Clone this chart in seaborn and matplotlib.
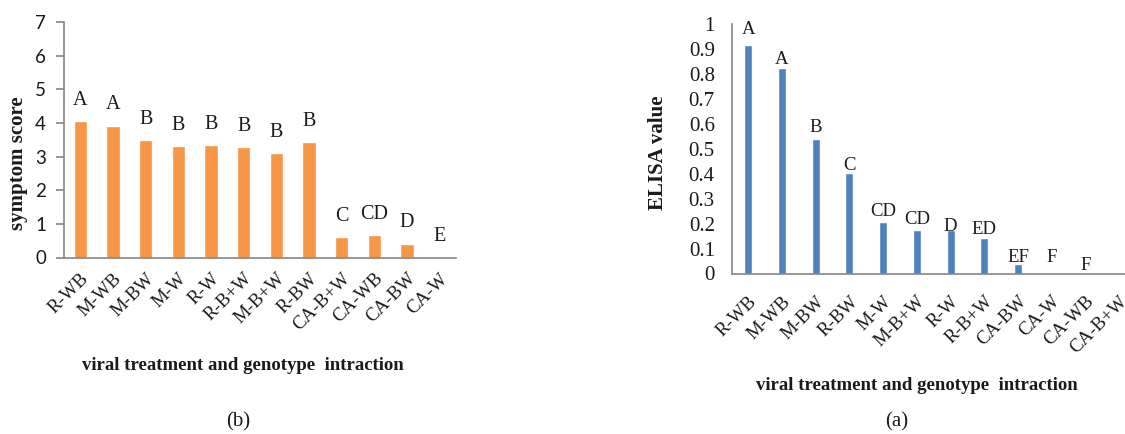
import matplotlib
matplotlib.use("Agg")
import matplotlib.pyplot as plt
import seaborn as sns
import pandas as pd
from matplotlib.ticker import FuncFormatter

# ---------------- data ----------------
symptom_cats = ["R-WB", "M-WB", "M-BW", "M-W", "R-W", "R-B+W", "M-B+W", "R-BW",
                "CA-B+W", "CA-WB", "CA-BW", "CA-W"]
symptom_vals = [4.06, 3.92, 3.49, 3.31, 3.34, 3.27, 3.11, 3.42, 0.60, 0.67, 0.41, 0.0]
symptom_letters = ["A", "A", "B", "B", "B", "B", "B", "B", "C", "CD", "D", "E"]

elisa_cats = ["R-WB", "M-WB", "M-BW", "R-BW", "M-W", "M-B+W", "R-W", "R-B+W",
              "CA-BW", "CA-W", "CA-WB", "CA-B+W"]
elisa_vals = [0.916, 0.823, 0.541, 0.403, 0.208, 0.176, 0.175, 0.141, 0.039, 0.0, 0.0, -0.008]
elisa_letters = ["A", "A", "B", "C", "CD", "CD", "D", "ED", "EF", "F", "F", ""]

x_title = "viral treatment and genotype  intraction"

# ---------------- style ----------------
sns.set_theme(style="white")
plt.rcParams["font.family"] = ["Liberation Serif", "DejaVu Serif"]

ORANGE = "#F79646"
BLUE = "#4F81BD"
AXC = "#868686"
TXT = "#1a1a1a"

W, H = 1125, 434
fig = plt.figure(figsize=(W / 100, H / 100), dpi=100)

def px_axes(x0, y_top, x1, y_bot):
    return fig.add_axes([x0 / W, (H - y_bot) / H, (x1 - x0) / W, (y_bot - y_top) / H])

# ---------------- left chart (b) ----------------
axL = px_axes(64, 22, 456, 257.5)
dfL = pd.DataFrame({"cat": symptom_cats, "val": symptom_vals})
sns.barplot(data=dfL, x="cat", y="val", color=ORANGE, saturation=1, width=0.4,
            ax=axL, order=symptom_cats)
axL.set_ylim(0, 7)
axL.set_xlim(-0.5, len(symptom_cats) - 0.5)
axL.set_yticks(range(0, 8))
axL.set_xlabel("")
axL.set_ylabel("")
for s in ["top", "right"]:
    axL.spines[s].set_visible(False)
for s in ["left", "bottom"]:
    axL.spines[s].set_color(AXC)
    axL.spines[s].set_linewidth(1.2)
axL.tick_params(axis="y", which="both", left=True, length=6, width=1.2, color=AXC,
                pad=7, labelsize=13.5, labelcolor=TXT)
for t in axL.get_yticklabels():
    t.set_fontfamily(["Lato", "DejaVu Sans"])
axL.tick_params(axis="x", bottom=False, length=0, pad=9, labelsize=13.5, labelcolor=TXT)
plt.setp(axL.get_xticklabels(), rotation=45, ha="right", rotation_mode="anchor")
for i, (v, lab) in enumerate(zip(symptom_vals, symptom_letters)):
    axL.text(i, v + 0.62, lab, ha="center", va="center", fontsize=14.5, color=TXT)

fig.text(18 / W, 1 - 163 / H, "symptom score", rotation=90, ha="center", va="center",
         fontsize=15, fontweight="bold", color=TXT)
fig.text(243 / W, 1 - 365 / H, x_title, ha="center", va="center",
         fontsize=13.5, fontweight="bold", color=TXT)
fig.text(238 / W, 1 - 422 / H, "(b)", ha="center", va="center", fontsize=15, color=TXT)

# ---------------- right chart (a) ----------------
axR = px_axes(731.5, 24, 731.5 + 12 * 33.7, 273.5)
dfR = pd.DataFrame({"cat": elisa_cats, "val": elisa_vals})
sns.barplot(data=dfR, x="cat", y="val", color=BLUE, saturation=1, width=0.24,
            ax=axR, order=elisa_cats)
for p in axR.patches:
    p.set_clip_on(False)
axR.set_ylim(0, 1)
axR.set_xlim(-0.5, len(elisa_cats) - 0.5)
axR.set_yticks([i / 10 for i in range(0, 11)])
axR.yaxis.set_major_formatter(FuncFormatter(lambda v, _: f"{v:g}"))
axR.set_xlabel("")
axR.set_ylabel("")
for s in ["top", "right"]:
    axR.spines[s].set_visible(False)
for s in ["left", "bottom"]:
    axR.spines[s].set_color(AXC)
    axR.spines[s].set_linewidth(1.2)
axR.tick_params(axis="y", left=False, length=0, pad=12, labelsize=15, labelcolor=TXT)
axR.tick_params(axis="x", bottom=False, length=0, pad=14, labelsize=13.5, labelcolor=TXT)
plt.setp(axR.get_xticklabels(), rotation=45, ha="right", rotation_mode="anchor")
letter_offsets = [0.06, 0.033, 0.044, 0.03, 0.039, 0.04, 0.014, 0.037, 0.024, 0.063, 0.033, 0.03]
for i, (v, lab) in enumerate(zip(elisa_vals, elisa_letters)):
    if lab:
        axR.text(i, v + letter_offsets[i], lab, ha="center", va="center",
                 fontsize=13.5, color=TXT)

fig.text(658 / W, 1 - 153 / H, "ELISA value", rotation=90, ha="center", va="center",
         fontsize=15, fontweight="bold", color=TXT)
fig.text(917 / W, 1 - 385 / H, x_title, ha="center", va="center",
         fontsize=13.5, fontweight="bold", color=TXT)
fig.text(897 / W, 1 - 422 / H, "(a)", ha="center", va="center", fontsize=15, color=TXT)

fig.savefig("out.png", dpi=100)
